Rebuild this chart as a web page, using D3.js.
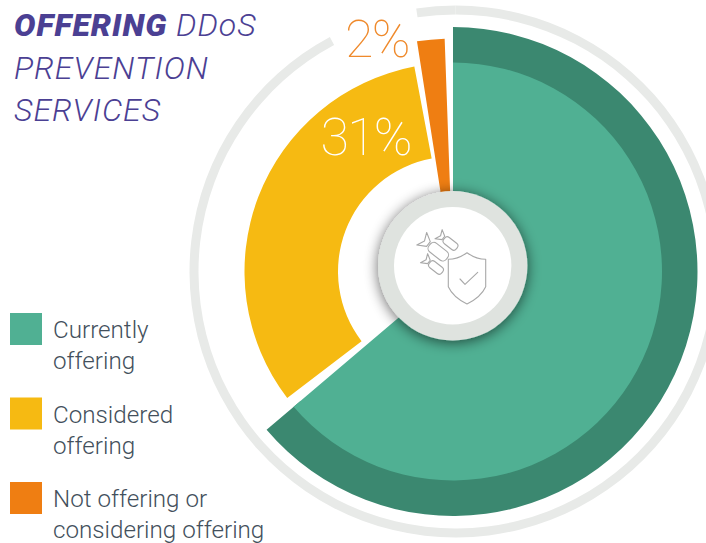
<!DOCTYPE html>
<html><head><meta charset="utf-8">
<script src="https://cdn.jsdelivr.net/npm/d3@7"></script>
<style>
html,body{margin:0;padding:0;background:#fff;overflow:hidden}
svg{display:block}
text{font-family:Roboto,sans-serif}
</style></head><body>
<svg id="c" width="706" height="543"></svg>
<script>
const categories = ["Currently offering", "Considered offering", "Not offering or considering offering"];
const drawnShares = [63.8, 32.4, 1.9];
const gapAfter = [0.83, 0.5, 0.55];
const valueLabels = [null, "31%", "2%"];
const colors = ["#50b093", "#f6ba12", "#ef7e12"];
const darkGreen = "#3b8870";
const legendLines = [["Currently", "offering"], ["Considered", "offering"], ["Not offering or", "considering offering"]];
const titleLines = [[["OFFERING", true], [" DDoS", false]], [["PREVENTION", false]], [["SERVICES", false]]];
const ringOpenShares = [92.17, 97.64];

const svg = d3.select("#c");
const cx = 453, cy = 271.5;
const angle = d3.scaleLinear().domain([0, 100]).range([0, 2 * Math.PI]);
const arc = d3.arc();
const root = svg.append("g").attr("transform", `translate(${cx},${cy})`);

// outer thin ring with a gap
svg.append("g").attr("transform", `translate(${cx + 2.5},${cy})`)
  .selectAll("path.ring").data([[0, ringOpenShares[0]], [ringOpenShares[1], 100]]).join("path")
  .attr("class", "ring").attr("fill", "#e8eae8")
  .attr("d", d => arc({innerRadius: 257, outerRadius: 266, startAngle: angle(d[0]), endAngle: angle(d[1])}));

// slices
let cum = 0;
const slices = drawnShares.map((v, i) => { const s = {i, start: cum, end: cum + v}; cum += v + gapAfter[i]; return s; });
const radii = [[0, 209], [115, 208.5], [60, 233]];
root.append("path").attr("fill", darkGreen)
  .attr("d", arc({innerRadius: 200, outerRadius: 244.5, startAngle: angle(slices[0].start), endAngle: angle(slices[0].end)}));
root.selectAll("path.slice").data(slices).join("path")
  .attr("class", "slice").attr("fill", d => colors[d.i])
  .attr("d", d => arc({innerRadius: radii[d.i][0], outerRadius: radii[d.i][1], startAngle: angle(d.start), endAngle: angle(d.end)}));

// hub
const defs = svg.append("defs");
const f = defs.append("filter").attr("id", "sh").attr("x", "-40%").attr("y", "-40%").attr("width", "180%").attr("height", "180%");
f.append("feGaussianBlur").attr("in", "SourceAlpha").attr("stdDeviation", 7).attr("result", "b");
f.append("feOffset").attr("in", "b").attr("dx", 0).attr("dy", 2).attr("result", "o");
f.append("feComponentTransfer").attr("in", "o").attr("result", "t").append("feFuncA").attr("type", "linear").attr("slope", 0.6);
const m = f.append("feMerge"); m.append("feMergeNode").attr("in", "t"); m.append("feMergeNode").attr("in", "SourceGraphic");
const hx = 452.7, hy = 265.8;
svg.append("circle").attr("cx", hx).attr("cy", hy).attr("r", 74.7).attr("fill", "#dfe3df").attr("filter", "url(#sh)");
svg.append("circle").attr("cx", hx).attr("cy", hy).attr("r", 58.7).attr("fill", "#fff");

// icon
const icon = svg.append("g").attr("fill", "none").attr("stroke", "#a8a8a8").attr("stroke-width", 1.1).attr("stroke-linejoin", "round").attr("stroke-linecap", "round");
icon.append("path").attr("d", "M467,252.7 Q476,259.3 485.7,259.3 L485.7,286.7 Q481,297 467,304 Q453,297 448.3,286.7 L448.3,259.3 Q458,259.3 467,252.7 Z");
icon.append("path").attr("d", "M460,279 L465,284.3 L477.7,272.3");
const bombs = [[438.3, 251.7, 1], [450.5, 243.5, 0.72], [436, 267.5, 0.72]];
bombs.forEach(([x, y, s]) => {
  const g = icon.append("g").attr("transform", `translate(${x},${y}) rotate(38) scale(${s})`);
  g.append("rect").attr("x", -11).attr("y", -5.5).attr("width", 22).attr("height", 11).attr("rx", 4.5).attr("stroke-width", 1.1 / s);
  g.append("path").attr("stroke-width", 1.1 / s).attr("d", "M-12.5,-3 L-21,-8 L-17.5,0 L-21,8 L-12.5,3 Z");
});

// value labels
const labelPos = [null, [320.5, 155, "#ffffff"], [345, 56.7, "#ef8a2c"]];
valueLabels.forEach((t, i) => {
  if (!t) return;
  svg.append("text").attr("x", labelPos[i][0]).attr("y", labelPos[i][1]).attr("fill", labelPos[i][2])
    .attr("font-size", 52).attr("font-weight", 100).attr("letter-spacing", -1.8).text(t);
});

// title
titleLines.forEach((line, i) => {
  const tx = svg.append("text").attr("x", 14).attr("y", 36 + i * 42.5).attr("fill", "#4b4093").attr("font-size", 32).attr("letter-spacing", 1).attr("font-style", "italic").style("white-space", "pre");
  line.forEach(([t, b]) => tx.append("tspan").attr("font-weight", b ? 900 : 300).text(t));
});

// legend
categories.forEach((c, i) => {
  const y = 313 + i * 84.5;
  svg.append("rect").attr("x", 10).attr("y", y).attr("width", 32).attr("height", 32).attr("fill", colors[i]);
  legendLines[i].forEach((l, j) => {
    svg.append("text").attr("x", 53).attr("y", y + 25 + j * 31.3).attr("font-size", 24.2).attr("font-weight", 300).attr("fill", "#43505c").text(l);
  });
});
</script></body></html>
